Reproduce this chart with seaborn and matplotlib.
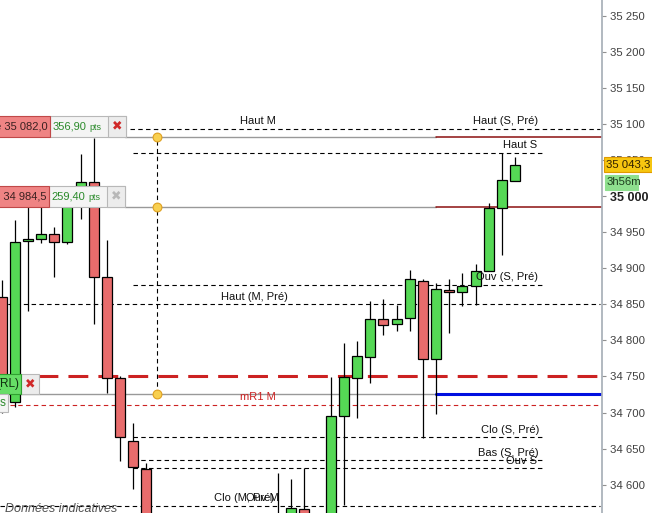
"""Intraday candlestick chart with pivot levels."""
import pandas as pd
import seaborn as sns
import matplotlib.pyplot as plt
from matplotlib.patches import Rectangle

# candles (oldest first), prices
opens = [34860, 34715, 34938, 34940, 34947, 34936, 34993, 35019, 34888, 34748,
         34661, 34622, 34545, 34520, 34535, 34505, 34490, 34510, 34525, 34500,
         34520, 34530, 34540, 34566, 34540, 34535, 34695, 34748, 34777, 34830,
         34823, 34831, 34882, 34774, 34870, 34867, 34875, 34896, 34983, 35021]
highs = [34884, 34967, 34990, 34985, 34957, 34997, 35058, 35080, 34939, 34750,
         34686, 34630, 34555, 34550, 34548, 34525, 34530, 34545, 34540, 34538,
         34552, 34616, 34608, 34623, 34555, 34749, 34796, 34799, 34855, 34857,
         34849, 34898, 34885, 34880, 34885, 34893, 34906, 34990, 35060, 35054]
lows = [34700, 34708, 34841, 34935, 34888, 34934, 34968, 34823, 34727, 34633,
        34594, 34530, 34500, 34495, 34480, 34470, 34475, 34495, 34485, 34490,
        34505, 34515, 34530, 34525, 34510, 34528, 34572, 34693, 34741, 34807,
        34813, 34813, 34665, 34698, 34810, 34848, 34849, 34896, 34918, 35021]
closes = [34715, 34936, 34940, 34947, 34936, 34993, 35019, 34888, 34748, 34666,
          34625, 34545, 34520, 34535, 34505, 34490, 34510, 34525, 34500, 34520,
          34530, 34540, 34568, 34540, 34535, 34695, 34749, 34778, 34830, 34821,
          34830, 34885, 34774, 34871, 34867, 34875, 34896, 34983, 35022, 35043.3]

# measuring tool levels
top_level = 35082.0
mid_level = 34984.5
rl_level = 34725.1
last_price = 35043.3

# dashed reference levels
ref_labels = ["Haut M", "Haut (S, Pré)", "Haut S", "Ouv (S, Pré)", "Haut (M, Pré)",
              "mR1 M", "Clo (S, Pré)", "Bas (S, Pré)", "Ouv S", "Clo (M, Pré)", "Ouv M"]
ref_prices = [35093, 35093, 35060, 34877, 34850, 34711, 34666, 34634, 34623, 34571, 34571]

tick_values = list(range(34600, 35251, 50))
tick_labels = [f"{v:,}".replace(",", " ") for v in tick_values]

W, H = 652, 513
AXW = 602
PX = 13.17  # pixels per candle

candles = pd.DataFrame({"open": opens, "high": highs, "low": lows, "close": closes})
candles["idx"] = range(len(candles))
candles["up"] = candles["close"] >= candles["open"]

sns.set_theme(style="white")
plt.rcParams["font.family"] = ["Liberation Sans", "DejaVu Sans"]

fig = plt.figure(figsize=(W / 100, H / 100), dpi=100)
ax = fig.add_axes([0, 0, AXW / W, 1])
ax.set_xlim(-1.5 / PX, (AXW - 1.5) / PX)
ax.set_ylim(34560.9, 35271.5)
for s in ["top", "left", "bottom"]:
    ax.spines[s].set_visible(False)
ax.spines["right"].set_color("#a8b0b8")
ax.set_xticks([])
ax.yaxis.tick_right()
ax.set_yticks(tick_values)
ax.set_yticklabels(tick_labels)
ax.tick_params(axis="y", which="major", right=True, length=3, width=0.8,
               color="#909090", labelsize=8.2, labelcolor="#404040", pad=3)
for t in ax.get_yticklabels():
    if t.get_text() == "35 000":
        t.set_fontweight("bold")
        t.set_color("#202020")
        t.set_fontsize(9)


def ypx(price):
    return H - ax.transData.transform((0, price))[1]


def fx(px):
    return px / AXW


# horizontal reference lines
dash_k = dict(color="black", lw=0.8, ls=(0, (4, 3)), zorder=1)
ax.axhline(35093, fx(130), fx(600), **dash_k)
for p in [35060, 34877, 34666, 34634, 34623]:
    ax.axhline(p, fx(133), fx(543), **dash_k)
ax.axhline(34850, 0, fx(600), **dash_k)
ax.axhline(34571, 0, fx(600), **dash_k)
ax.axhline(34751, fx(38), fx(600), color="#cc2222", lw=2.2, ls=(0, (6.5, 3.3)), zorder=1)
ax.axhline(34711, fx(10), fx(600), color="#cc2222", lw=0.8, ls=(0, (4, 3)), zorder=1)

# measuring tool lines
for p in [top_level, mid_level]:
    ax.axhline(p, fx(125), fx(436), color="#999999", lw=1, zorder=1)
    ax.axhline(p, fx(436), 1, color="#8b1010", lw=1.1, zorder=1)
ax.axhline(rl_level, 0, fx(436), color="#999999", lw=1, zorder=1)
ax.axhline(rl_level, fx(436), 1, color="#0010e0", lw=2.2, zorder=1)

tool_x = (157 - 1.5) / PX
ax.vlines(tool_x, rl_level, 35093, color="black", lw=0.8, ls=(0, (4, 3)), zorder=1)

# candles
ax.vlines(candles["idx"], candles["low"], candles["high"], color="black", lw=0.9, zorder=2)
body_lo = candles[["open", "close"]].min(axis=1)
body_h = (candles["close"] - candles["open"]).abs().clip(lower=2.5)
ax.bar(candles["idx"], body_h, bottom=body_lo, width=0.76,
       color=["#55d855" if u else "#e86c6c" for u in candles["up"]],
       edgecolor="black", linewidth=0.9, zorder=3)

sns.scatterplot(x=[tool_x] * 3, y=[top_level, mid_level, rl_level], ax=ax,
                s=40, color="#f8d050", edgecolor="#e0a020", linewidth=0.8, zorder=5)

# line labels
lab_x = [258, 506, 520, 507, 254, 258, 510, 508, 521, 244, 262]
for lab, p, x in zip(ref_labels, ref_prices, lab_x):
    fig.text(x / W, 1 - (ypx(p) - 7.5) / H, lab, ha="center", va="center",
             fontsize=8, color="#cc2222" if lab.startswith("mR1") else "#111111")


def box(x0, x1, y0, y1, fc, ec, lw=0.8):
    fig.patches.append(Rectangle((x0 / W, 1 - y1 / H), (x1 - x0) / W, (y1 - y0) / H,
                                 transform=fig.transFigure, fc=fc, ec=ec, lw=lw, zorder=6))


def ftext(x, y, s, **kw):
    fig.text(x / W, 1 - y / H, s, va="center", zorder=7, **kw)


# measuring tool tags
for p, price_txt, pts_txt, rw, wx, xcol in [
        (top_level, "e 35 082,0", "356,90", 50, 108, "#d02828"),
        (mid_level, "e 34 984,5", "259,40", 49, 107, "#b8b8b8")]:
    yb = ypx(p)
    box(rw, wx + 18, yb - 21, yb, "#f4f4f4", "#b8b8b8")
    box(wx, wx + 18, yb - 21, yb, "#ececec", "#b8b8b8")
    box(-2, rw, yb - 21, yb, "#ef8484", "#c04848")
    ftext(rw - 2, yb - 10.5, price_txt, ha="right", fontsize=8, color="#3a2020")
    ftext(rw + 36, yb - 10.5, pts_txt, ha="right", fontsize=8, color="#2a8a2a")
    ftext(rw + 39, yb - 9.5, "pts", ha="left", fontsize=6.5, color="#2a8a2a")
    ftext(wx + 9, yb - 10.5, "\u2716", ha="center", fontsize=9, color=xcol)

yb = ypx(rl_level)
box(21, 39, yb - 20, yb, "#ececec", "#b8b8b8")
box(-2, 21, yb - 20, yb, "#66dd66", "#30a030")
ftext(19, yb - 10, "(RL)", ha="right", fontsize=8.5, color="#103010")
ftext(30, yb - 10, "\u2716", ha="center", fontsize=9, color="#d02828")
box(-2, 8, yb, yb + 18, "#f4f4f4", "#b8b8b8")
ftext(0, yb + 9, "s", ha="left", fontsize=8.5, color="#2a8a2a")

# last price tags
yl = ypx(last_price)
box(604, 653, yl - 7.5, yl + 7.5, "#f6c610", "#e09a00")
ftext(606, yl, "35 043,3", ha="left", fontsize=8.2, color="#302000")
box(605, 638, yl + 10, yl + 25, "#8ee08e", "#8ee08e")
ftext(607, yl + 17.5, "3h56m", ha="left", fontsize=8.2, color="#1d3d1d")

fig.text(5 / W, 1 - 503 / H, "Données indicatives", ha="left", va="top",
         fontsize=9, style="italic", color="#505050")

fig.savefig("out.png", dpi=100)
